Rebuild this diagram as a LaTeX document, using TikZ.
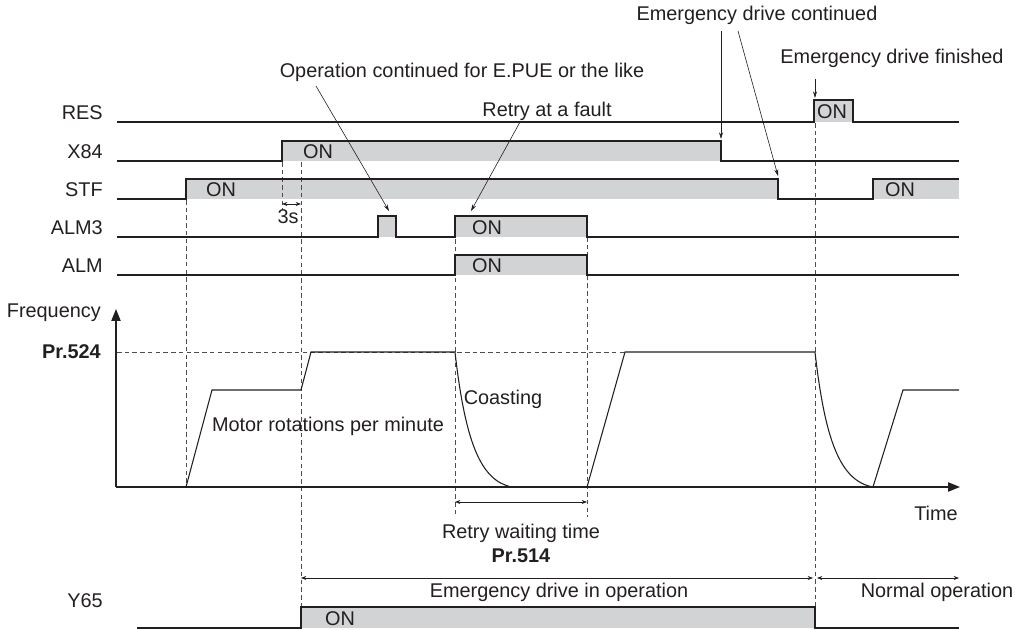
\documentclass[tikz,border=0pt]{standalone}
\usepackage{fontspec}
\setmainfont{Liberation Sans}
\usetikzlibrary{arrows.meta}
\definecolor{onfill}{RGB}{210,211,213}
\definecolor{ink}{RGB}{35,31,32}
\begin{document}
\begin{tikzpicture}[x=0.75pt,y=-0.75pt,
  txt/.style={font=\fontsize{14.9}{17}\selectfont, inner sep=0pt, text=ink},
  lbl/.style={txt, anchor=east},
  sig/.style={line width=0.9pt, draw=ink, line join=miter},
  onbox/.style={fill=onfill, draw=none},
  dsh/.style={dash pattern=on 3.4pt off 2.4pt, line width=0.65pt, draw=ink!80},
  ann/.style={line width=0.45pt, draw=ink, -{Stealth[length=5pt,width=3pt]}},
  dimarr/.style={line width=0.45pt, draw=ink, {Stealth[length=4pt,width=3pt]}-{Stealth[length=4pt,width=3pt]}},
  axis/.style={line width=0.9pt, draw=ink, -{Triangle[length=9pt,width=7pt]}},
  curve/.style={line width=0.8pt, draw=ink},
]
\path[use as bounding box] (0,0) rectangle (1029,630);

% ---------- signal names ----------
\node[lbl] (lres)  at (103,113) {RES};
\node[lbl] (lx84)  at (103,152) {X84};
\node[lbl] (lstf)  at (103,190) {STF};
\node[lbl] (lalm3) at (103,228) {ALM3};
\node[lbl] (lalm)  at (103,266) {ALM};
\node[lbl] (lfreq) at (101,313) {Frequency};
\node[lbl,font=\fontsize{14.9}{17}\selectfont\bfseries] (lpr) at (101,352) {Pr.524};
\node[lbl] (ly65)  at (103,601) {Y65};

% ---------- gray ON areas ----------
\fill[onbox] (814,100) rectangle (853,122);
\fill[onbox] (282,141) rectangle (721,161);
\fill[onbox] (186,179) rectangle (778,199);
\fill[onbox] (873,179) rectangle (959,199);
\fill[onbox] (378,216) rectangle (396,237);
\fill[onbox] (455,216) rectangle (587,237);
\fill[onbox] (455,255) rectangle (587,275);
\fill[onbox] (301,607) rectangle (815,628);

% ---------- dashed guide lines ----------
\draw[dsh] (186,200) -- (186,487);
\draw[dsh] (282,162) -- (282,210);
\draw[dsh] (301,162) -- (301,607);
\draw[dsh] (455,216) -- (455,517);
\draw[dsh] (587,237) -- (587,517);
\draw[dsh] (815,123) -- (815,607);
\draw[dsh] (117,352) -- (625,352);

% ---------- signal lines ----------
\draw[sig] (117,122) -- (814,122) -- (814,100) -- (853,100) -- (853,122) -- (959,122);
\draw[sig] (117,161) -- (282,161) -- (282,141) -- (721,141) -- (721,161) -- (959,161);
\draw[sig] (117,199) -- (186,199) -- (186,179) -- (778,179) -- (778,199) -- (873,199) -- (873,179) -- (959,179);
\draw[sig] (117,237) -- (378,237) -- (378,216) -- (396,216) -- (396,237) -- (455,237) -- (455,216) -- (587,216) -- (587,237) -- (959,237);
\draw[sig] (117,275) -- (455,275) -- (455,255) -- (587,255) -- (587,275) -- (959,275);
\draw[sig] (137,628) -- (301,628) -- (301,607) -- (815,607) -- (815,628) -- (959,628);

% ---------- ON texts ----------
\node[txt] (on1) at (832,112) {ON};
\node[txt] (on2) at (318,152) {ON};
\node[txt] (on3) at (221,190) {ON};
\node[txt] (on4) at (900,190) {ON};
\node[txt] (on5) at (487,228) {ON};
\node[txt] (on6) at (487,266) {ON};
\node[txt] (on7) at (340,619) {ON};

% ---------- axes ----------
\coordinate (org) at (116,487);
\coordinate (ytip) at (116,309);
\coordinate (xtip) at (960,487);
\draw[axis] (org) -- (ytip);
\draw[axis] (org) -- (xtip);
\node[txt] (ltime) at (936,513) {Time};

% ---------- frequency curve ----------
\draw[curve] (186,487) -- (212,390) -- (301,390) -- (311,352) -- (455,352)
  .. controls (465,440) and (480,481) .. (512,487) -- (587,487) -- (625,352) -- (815,352)
  .. controls (825,440) and (840,481) .. (873,487) -- (903,390) -- (959,390);
\node[txt] (lmotor) at (328,426) {Motor rotations per minute};
\node[txt] (lcoast) at (503,399) {Coasting};

% ---------- 3s ----------
\coordinate (s3a) at (282,204);
\coordinate (s3b) at (301,204);
\draw[dimarr] (s3a) -- (s3b);
\node[txt] (l3s) at (288,217) {3s};

% ---------- retry waiting ----------
\coordinate (rwa) at (455,502);
\coordinate (rwb) at (587,502);
\draw[dimarr] (rwa) -- (rwb);
\node[txt] (lrw) at (521,533) {Retry waiting time};
\node[txt,font=\fontsize{14.9}{17}\selectfont\bfseries] (lpr514) at (521,556) {Pr.514};

% ---------- operation spans ----------
\coordinate (ema) at (301,578);
\coordinate (emb) at (813,578);
\coordinate (noa) at (817,578);
\coordinate (nob) at (959,578);
\draw[dimarr] (ema) -- (emb);
\draw[dimarr] (noa) -- (nob);
\node[txt] (lem) at (559,592) {Emergency drive in operation};
\node[txt] (lno) at (937,592) {Normal operation};

% ---------- annotations ----------
\node[txt] (lop) at (462,72) {Operation continued for E.PUE or the like};
\coordinate (opt) at (389,211);
\draw[ann] (316,86) -- (opt);

\node[txt] (lretry) at (547,111) {Retry at a fault};
\coordinate (rtt) at (471,211);
\draw[ann] (520,122) -- (rtt);

\node[txt] (lcont) at (757,15) {Emergency drive continued};
\coordinate (c1t) at (721,139);
\coordinate (c2t) at (778,176);
\draw[ann] (721,31) -- (c1t);
\draw[ann] (738,31) -- (c2t);

\node[txt] (lfin) at (892,58) {Emergency drive finished};
\coordinate (ft) at (815,98);
\draw[ann] (815,79) -- (ft);
\end{tikzpicture}
\end{document}
